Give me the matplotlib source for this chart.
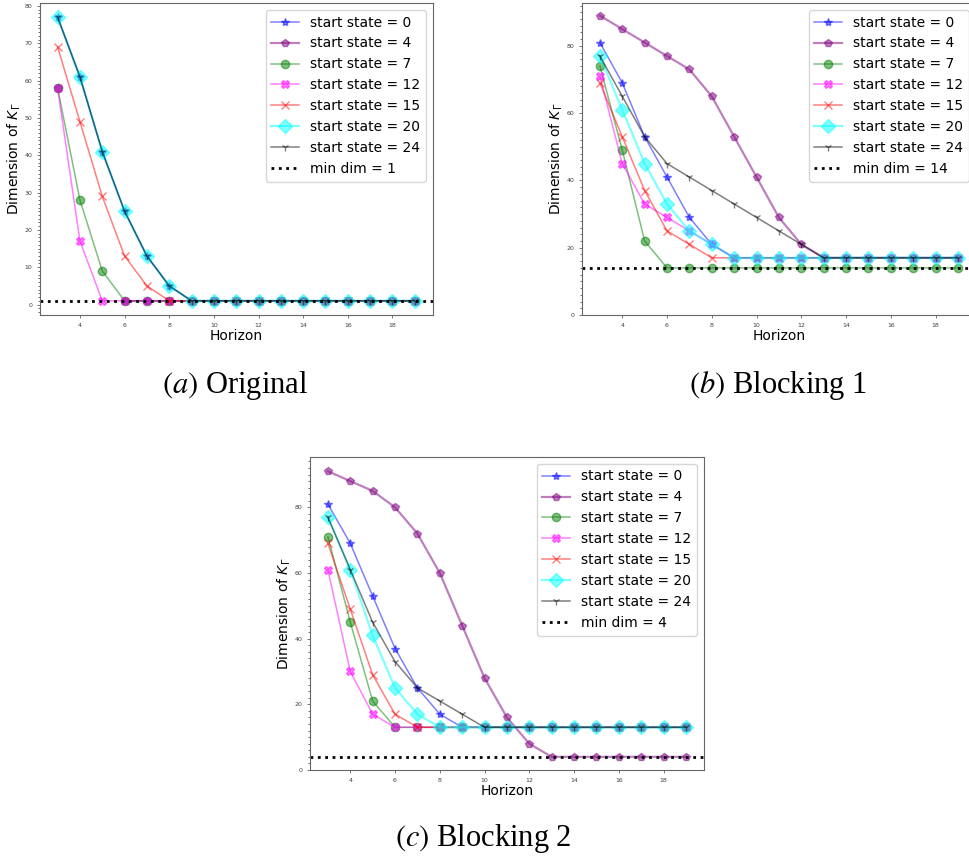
import matplotlib.pyplot as plt
from matplotlib.ticker import AutoMinorLocator

nan = float('nan')
horizon = list(range(3, 20))
start_states = [0, 4, 7, 12, 15, 20, 24]

# panel (a) original (state 4 only visible at h=3 and from h=6 on)
orig = {
    0:  [77, 61, 41, 25, 13, 5, 1, 1, 1, 1, 1, 1, 1, 1, 1, 1, 1],
    4:  [58, nan, nan, 1, 1, 1, 1, 1, 1, 1, 1, 1, 1, 1, 1, 1, 1],
    7:  [58, 28, 9, 1, 1, 1, 1, 1, 1, 1, 1, 1, 1, 1, 1, 1, 1],
    12: [58, 17, 1, 1, 1, 1, 1, 1, 1, 1, 1, 1, 1, 1, 1, 1, 1],
    15: [69, 49, 29, 13, 5, 1, 1, 1, 1, 1, 1, 1, 1, 1, 1, 1, 1],
    20: [77, 61, 41, 25, 13, 5, 1, 1, 1, 1, 1, 1, 1, 1, 1, 1, 1],
    24: [77, 61, 41, 25, 13, 5, 1, 1, 1, 1, 1, 1, 1, 1, 1, 1, 1],
}
orig_min = 1

# panel (b) blocking 1
block1 = {
    0:  [81, 69, 53, 41, 29, 21, 17, 17, 17, 17, 17, 17, 17, 17, 17, 17, 17],
    4:  [89, 85, 81, 77, 73, 65, 53, 41, 29, 21, 17, 17, 17, 17, 17, 17, 17],
    7:  [74, 49, 22, 14, 14, 14, 14, 14, 14, 14, 14, 14, 14, 14, 14, 14, 14],
    12: [71, 45, 33, 29, 25, 21, 17, 17, 17, 17, 17, 17, 17, 17, 17, 17, 17],
    15: [69, 53, 37, 25, 21, 17, 17, 17, 17, 17, 17, 17, 17, 17, 17, 17, 17],
    20: [77, 61, 45, 33, 25, 21, 17, 17, 17, 17, 17, 17, 17, 17, 17, 17, 17],
    24: [77, 65, 53, 45, 41, 37, 33, 29, 25, 21, 17, 17, 17, 17, 17, 17, 17],
}
block1_min = 14

# panel (c) blocking 2
block2 = {
    0:  [81, 69, 53, 37, 25, 17, 13, 13, 13, 13, 13, 13, 13, 13, 13, 13, 13],
    4:  [91, 88, 85, 80, 72, 60, 44, 28, 16, 8, 4, 4, 4, 4, 4, 4, 4],
    7:  [71, 45, 21, 13, 13, 13, 13, 13, 13, 13, 13, 13, 13, 13, 13, 13, 13],
    12: [61, 30, 17, 13, 13, 13, 13, 13, 13, 13, 13, 13, 13, 13, 13, 13, 13],
    15: [69, 49, 29, 17, 13, 13, 13, 13, 13, 13, 13, 13, 13, 13, 13, 13, 13],
    20: [77, 61, 41, 25, 17, 13, 13, 13, 13, 13, 13, 13, 13, 13, 13, 13, 13],
    24: [77, 61, 45, 33, 25, 21, 17, 13, 13, 13, 13, 13, 13, 13, 13, 13, 13],
}
block2_min = 4

styles = {
    0:  dict(color='blue', marker='*', ms=6, lw=1.1),
    4:  dict(color='purple', marker='p', ms=6, lw=1.6),
    7:  dict(color='green', marker='o', ms=6, lw=1.1),
    12: dict(color='magenta', marker='X', ms=6, lw=1.1),
    15: dict(color='red', marker='x', ms=6, lw=1.1),
    20: dict(color='cyan', marker='D', ms=7, lw=1.6),
    24: dict(color='black', marker='1', ms=6, lw=1.1),
}

plt.rcParams['mathtext.fontset'] = 'dejavusans'


def draw(ax, data, min_dim, floor_zero):
    for s in start_states:
        ax.plot(horizon, data[s], alpha=0.5, label=f"start state = {s}", **styles[s])
    ax.axhline(min_dim, color='black', linestyle=':', lw=2, label=f"min dim = {min_dim}")
    if floor_zero:
        ax.set_ylim(bottom=0)
    ax.set_xticks(range(4, 20, 2))
    ax.yaxis.set_minor_locator(AutoMinorLocator(10))
    ax.tick_params(labelsize=4.5, colors='0.25', length=2, width=0.5)
    ax.tick_params(which='minor', length=1.2, width=0.4)
    for sp in ax.spines.values():
        sp.set_color('0.4')
    ax.set_xlabel("Horizon", fontsize=10, labelpad=1)
    ax.set_ylabel(r"Dimension of $K_\Gamma$", fontsize=10, labelpad=1)
    ax.legend(loc='upper right', fontsize=10)


fig = plt.figure(figsize=(9.7, 8.63), dpi=100)
ax_a = fig.add_axes([0.041, 0.635, 0.405, 0.3615])
ax_b = fig.add_axes([0.600, 0.635, 0.406, 0.3615])
ax_c = fig.add_axes([0.3196, 0.1078, 0.406, 0.3627])

draw(ax_a, orig, orig_min, False)
draw(ax_b, block1, block1_min, True)
draw(ax_c, block2, block2_min, True)

cap = dict(fontsize=22, family='Liberation Serif', ha='center', va='center', math_fontfamily='stix')
fig.text(0.242, 0.553, r"$(a)$ Original", **cap)
fig.text(0.802, 0.553, r"$(b)$ Blocking 1", **cap)
fig.text(0.498, 0.028, r"$(c)$ Blocking 2", **cap)

fig.savefig("out.png", dpi=100)
